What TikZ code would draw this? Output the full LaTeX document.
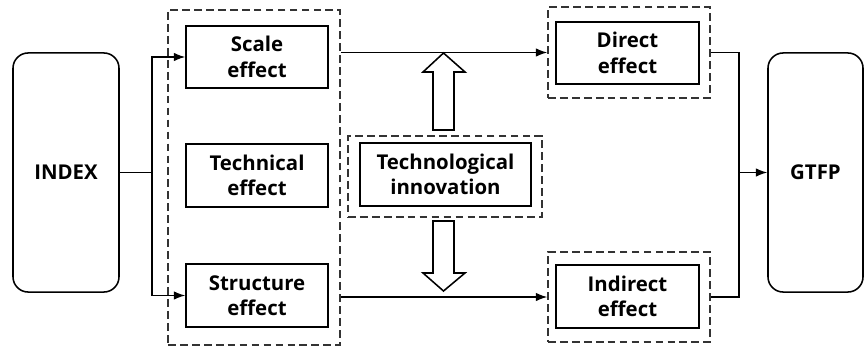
\documentclass[tikz,border=0pt]{standalone}
\usepackage{fontspec}
\setmainfont{Open Sans}
\usetikzlibrary{positioning, arrows.meta, calc}
\tikzset{
	effbox/.style={draw, line width=1.1pt, align=center, font=\boxfont, inner sep=0pt},
	endbox/.style={effbox, rounded corners=0.38cm, minimum height=5.975cm},
	grpbox/.style={draw=black!80, line width=1.1pt, dash pattern=on 5.5pt off 3pt},
	arr/.style={line width=0.9pt, -{Latex[length=8pt,width=6pt]}},
	conn/.style={line width=0.9pt},
	hollow/.style={line width=1.1pt, fill=white, line join=miter}
}
\newcommand{\boxfont}{\fontsize{14.5}{18}\selectfont\bfseries}

\begin{document}
\begin{tikzpicture}[x=0.025cm, y=-0.025cm]
      \useasboundingbox (0,0) rectangle (864,349);
      % outer boxes
      \node[endbox, minimum width=2.65cm] (index) at (66,172.5) {INDEX};
      \node[endbox, minimum width=2.375cm] (gtfp) at (815.5,172.5) {GTFP};
      % dashed groups
      \node[grpbox, minimum width=4.3cm, minimum height=8.375cm] (grp) at (254,177.5) {};
      \node[grpbox, minimum width=4.85cm, minimum height=2.025cm] (innovgrp) at (445,176.5) {};
      \node[grpbox, minimum width=4.05cm, minimum height=2.275cm] (directgrp) at (629,52.5) {};
      \node[grpbox, minimum width=4.05cm, minimum height=2.25cm] (indirectgrp) at (629,297) {};
      % effect boxes
      \node[effbox, minimum width=3.55cm, minimum height=1.55cm] (scale) at (257,57) {Scale\\effect};
      \node[effbox, minimum width=3.55cm, minimum height=1.575cm] (tech) at (257,175.5) {Technical\\effect};
      \node[effbox, minimum width=3.55cm, minimum height=1.575cm] (struct) at (257,295.5) {Structure\\effect};
      \node[effbox, minimum width=4.275cm, minimum height=1.575cm] (innov) at (445.5,174.5) {Technological\\innovation};
      \node[effbox, minimum width=3.575cm, minimum height=1.55cm] (direct) at (627.5,53) {Direct\\effect};
      \node[effbox, minimum width=3.575cm, minimum height=1.575cm] (indirect) at (627.5,296.5) {Indirect\\effect};
      % connectors
      \coordinate (split) at (152,172.5);
      \draw[conn] (index.east) -- (split);
      \draw[arr] (split) |- (scale.west);
      \draw[arr] (split) |- (struct.west);
      \draw[arr] (grp.east |- directgrp.west) -- (directgrp.west);
      \draw[arr] (grp.east |- indirectgrp.west) -- (indirectgrp.west);
      \coordinate (join) at (739,172.5);
      \draw[conn] (directgrp.east) -| (join) |- (indirectgrp.east);
      \draw[arr] (join) -- (gtfp.west);
      % hollow arrows
      \draw[hollow] (433,130) -- (433,72) -- (423,72) -- (443.5,53) -- (465,72) -- (454,72) -- (454,130) -- cycle;
      \draw[hollow] (433,221) -- (433,273) -- (423,273) -- (443.5,291) -- (465,273) -- (454,273) -- (454,221) -- cycle;
\end{tikzpicture}
\end{document}
